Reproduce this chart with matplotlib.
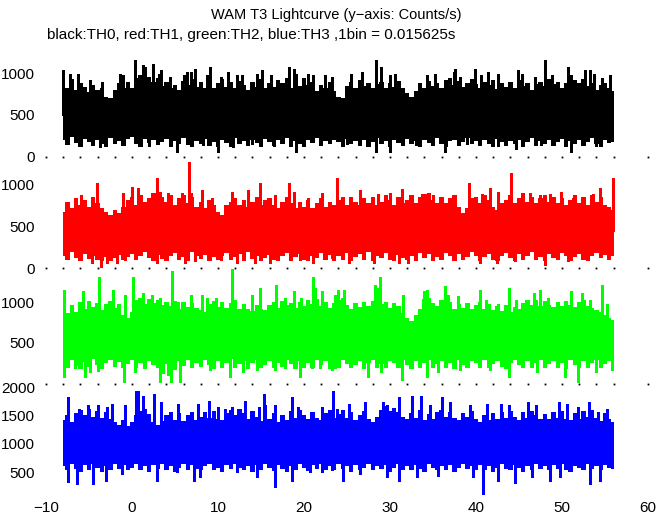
import numpy as np
import matplotlib
matplotlib.use('Agg')
import matplotlib.pyplot as plt

plt.rcParams['font.family'] = ['Liberation Sans', 'DejaVu Sans']

title = 'WAM T3 Lightcurve (y\u2212axis: Counts/s)'
subtitle = 'black:TH0, red:TH1, green:TH2, blue:TH3 ,1bin = 0.015625s'

# dense band of each lightcurve, read every 0.5 s from t=-8 s to t=56 s
t_start, t_step = -8.0, 0.5

black_top = [900, 820, 930, 800, 890, 840, 780, 860, 800, 830, 720, 700, 800, 880, 820, 900,
             830, 940, 980, 920, 960, 900, 940, 850, 900, 820, 860, 800, 910, 860, 930, 840,
             900, 830, 950, 820, 880, 930, 840, 900, 820, 910, 860, 800, 900, 840, 930, 820,
             890, 840, 920, 880, 950, 830, 900, 850, 940, 860, 900, 790, 860, 820, 900, 790,
             720, 700, 850, 900, 830, 920, 850, 890, 820, 870, 900, 830, 880, 840, 910, 820,
             760, 720, 790, 880, 830, 910, 850, 890, 830, 920, 950, 860, 910, 840, 880, 930,
             870, 820, 900, 860, 920, 810, 880, 840, 900, 830, 920, 850, 880, 800, 870, 900,
             850, 930, 870, 900, 820, 880, 840, 920, 880, 930, 850, 890, 800, 860, 880, 830,
             790]
black_bot = [200, 140, 230, 160, 120, 210, 170, 130, 200, 150, 110, 220, 150, 190, 130, 210,
             230, 150, 120, 210, 160, 200, 140, 170, 210, 110, 190, 150, 220, 140, 120, 190,
             150, 210, 130, 180, 110, 200, 160, 120, 220, 150, 190, 130, 200, 160, 120, 210,
             170, 130, 200, 150, 220, 120, 190, 150, 110, 200, 160, 220, 130, 190, 150, 200,
             170, 120, 210, 150, 190, 130, 200, 110, 170, 220, 150, 190, 120, 200, 160, 130,
             210, 150, 190, 120, 200, 160, 130, 220, 150, 110, 190, 200, 130, 170, 220, 150,
             190, 130, 200, 150, 120, 210, 170, 130, 190, 150, 200, 120, 170, 220, 130, 190,
             150, 200, 130, 170, 210, 120, 190, 150, 200, 130, 170, 220, 150, 120, 200, 160,
             180]
red_top = [680, 800, 720, 840, 760, 820, 740, 860, 780, 720, 680, 640, 700, 660, 740, 820,
           860, 760, 880, 800, 840, 900, 780, 860, 800, 880, 760, 840, 880, 780, 860, 740,
           800, 720, 820, 760, 680, 640, 760, 800, 840, 760, 820, 740, 800, 860, 760, 820,
           840, 760, 720, 800, 860, 780, 720, 800, 740, 820, 720, 780, 840, 740, 800, 760,
           820, 860, 760, 860, 800, 760, 840, 780, 860, 760, 800, 880, 820, 760, 860, 780,
           820, 880, 780, 860, 800, 900, 820, 780, 860, 780, 840, 880, 740, 660, 720, 840,
           860, 780, 880, 820, 740, 700, 780, 820, 880, 780, 840, 900, 800, 860, 780, 840,
           880, 800, 860, 780, 840, 760, 820, 880, 780, 860, 760, 880, 800, 860, 760, 740,
           700]
red_bot = [150, 100, 190, 120, 90, 170, 110, 140, 100, 80, 130, 90, 120, 160, 100, 130,
           170, 100, 140, 190, 120, 90, 160, 110, 90, 140, 180, 100, 130, 90, 190, 140,
           110, 160, 90, 130, 100, 150, 180, 100, 130, 170, 90, 190, 110, 150, 90, 120,
           160, 100, 90, 150, 180, 90, 130, 170, 100, 90, 150, 120, 180, 100, 160, 90,
           150, 100, 180, 90, 130, 170, 100, 190, 90, 150, 120, 180, 100, 80, 160, 120,
           100, 150, 90, 180, 120, 170, 80, 130, 100, 180, 150, 90, 170, 100, 130, 190,
           140, 90, 130, 170, 100, 80, 150, 180, 120, 90, 170, 100, 140, 190, 100, 130,
           90, 170, 120, 100, 180, 140, 90, 130, 170, 100, 80, 150, 180, 120, 160, 100,
           140]
green_top = [920, 860, 960, 880, 1000, 920, 1010, 940, 990, 900, 970, 1010, 930, 980, 840, 800,
             880, 1020, 1050, 980, 1040, 990, 1030, 960, 1000, 950, 1010, 920, 1000, 940, 990, 930,
             900, 880, 980, 1010, 940, 1000, 930, 990, 950, 910, 980, 920, 890, 960, 920, 900,
             960, 1000, 930, 1010, 960, 990, 930, 1000, 950, 1030, 970, 1040, 950, 1000, 930, 990,
             1030, 1050, 960, 920, 990, 940, 1000, 950, 1010, 940, 970, 1000, 930, 990, 950, 870,
             800, 770, 840, 920, 1040, 1050, 990, 950, 1030, 960, 1000, 920, 980, 930, 990, 910,
             960, 1000, 920, 980, 900, 950, 890, 960, 880, 940, 910, 990, 1020, 960, 1030, 950,
             1010, 960, 940, 1000, 950, 1010, 960, 940, 1000, 1020, 950, 930, 900, 880, 840, 810,
             780]
green_bot = [250, 200, 290, 220, 180, 270, 210, 300, 230, 180, 260, 290, 210, 270, 190, 240,
             290, 200, 260, 180, 280, 230, 190, 300, 250, 200, 170, 280, 220, 290, 190, 260,
             210, 290, 230, 180, 280, 200, 260, 300, 190, 240, 280, 180, 260, 290, 200, 230,
             280, 190, 260, 210, 290, 240, 180, 280, 200, 260, 190, 290, 230, 280, 180, 260,
             200, 290, 250, 190, 230, 280, 180, 260, 290, 200, 240, 190, 280, 260, 200, 290,
             230, 180, 280, 200, 260, 290, 190, 240, 280, 200, 260, 180, 290, 230, 190, 280,
             260, 200, 290, 190, 240, 280, 210, 180, 260, 290, 230, 190, 280, 200, 260, 290,
             190, 240, 280, 200, 260, 180, 290, 230, 200, 280, 190, 260, 290, 200, 240, 280,
             260]
blue_top = [1420, 1500, 1380, 1540, 1600, 1500, 1620, 1480, 1580, 1460, 1560, 1440, 1380, 1340, 1420, 1320,
            1380, 1500, 1580, 1620, 1520, 1380, 1340, 1400, 1500, 1560, 1420, 1540, 1400, 1500, 1560, 1420,
            1480, 1560, 1460, 1580, 1440, 1420, 1540, 1600, 1500, 1620, 1540, 1440, 1580, 1480, 1400, 1520,
            1440, 1540, 1380, 1500, 1420, 1580, 1460, 1600, 1500, 1440, 1560, 1460, 1420, 1540, 1600, 1460,
            1520, 1600, 1460, 1560, 1420, 1500, 1580, 1440, 1380, 1480, 1600, 1660, 1580, 1640, 1560, 1480,
            1440, 1540, 1460, 1600, 1420, 1520, 1440, 1560, 1600, 1480, 1560, 1460, 1420, 1540, 1480, 1580,
            1440, 1380, 1500, 1420, 1540, 1440, 1560, 1460, 1580, 1480, 1420, 1560, 1460, 1580, 1500, 1440,
            1520, 1440, 1560, 1460, 1580, 1440, 1420, 1540, 1440, 1580, 1480, 1600, 1460, 1400, 1540, 1440,
            1380]
blue_bot = [600, 530, 640, 560, 500, 620, 540, 650, 570, 510, 600, 540, 640, 560, 620, 530,
            580, 650, 540, 600, 510, 620, 560, 640, 530, 600, 500, 570, 650, 540, 620, 560,
            530, 600, 640, 540, 580, 510, 620, 560, 650, 570, 530, 600, 500, 620, 540, 640,
            570, 520, 620, 560, 500, 600, 540, 640, 570, 520, 620, 560, 650, 540, 600, 530,
            640, 560, 600, 510, 620, 540, 580, 650, 530, 600, 560, 620, 510, 580, 640, 540,
            600, 530, 620, 560, 500, 640, 580, 530, 600, 540, 620, 510, 580, 650, 560, 600,
            530, 620, 540, 600, 510, 580, 640, 560, 530, 620, 580, 500, 600, 540, 640, 560,
            600, 530, 620, 560, 650, 540, 510, 600, 580, 530, 640, 560, 600, 530, 620, 580,
            550]

# isolated spikes that stick out of the band (time s, counts/s)
black_up_t = [-8.0, -7.2, -6.3, -4.9, -3.5, -1.4, -1.0, 0.35, 1.3, 1.5, 2.4, 3.1, 3.4, 4.4, 6.0,
              6.4, 6.9, 7.3, 8.7, 9.1, 10.4, 11.2, 12.2, 12.8, 14.5, 15.1, 16.2, 18.2, 18.8, 19.1,
              20.5, 21.1, 22.4, 23.2, 25.5, 26.7, 28.4, 29.0, 30.0, 30.6, 34.3, 35.2, 37.4, 37.6,
              38.1, 39.9, 40.6, 41.4, 42.6, 44.9, 45.3, 46.9, 48.0, 48.8, 50.7, 51.1, 52.7, 53.3,
              53.7, 54.6, 55.6]
black_up_v = [1040, 1000, 1000, 920, 900, 1000, 980, 1160, 1100, 1080, 1120, 1000, 1040, 960, 980,
              1020, 1020, 1060, 980, 1080, 960, 1020, 980, 980, 1000, 1040, 980, 1080, 1060, 1000,
              1000, 980, 980, 960, 1000, 1020, 1160, 1080, 980, 1000, 980, 1000, 1020, 1060,
              960, 1060, 980, 1020, 1000, 1040, 1000, 960, 1160, 980, 1080, 980, 1040, 1040,
              1000, 940, 980]
black_dn_t = [-6.0, -3.7, -1.0, 2.0, 5.2, 8.3, 10.0, 11.8, 14.0, 16.5, 19.1, 22.0, 25.0, 28.4,
              30.0, 33.0, 36.4, 39.0, 42.6, 44.7, 47.5, 51.1, 54.0]
black_dn_v = [140, 110, 150, 130, 50, 140, 50, 120, 150, 130, 60, 140, 150, 50,
              50, 140, 50, 150, 130, 90, 140, 50, 130]

red_up_t = [-5.9, -4.1, -1.0, 0.0, 0.7, 2.9, 3.3, 4.2, 5.8, 6.6, 6.9, 8.1, 9.3, 11.6, 13.5,
            14.9, 16.6, 18.2, 18.8, 20.5, 22.1, 23.8, 26.5, 28.6, 30.0, 31.4, 33.7, 34.1, 35.0,
            37.4, 39.2, 40.7, 41.6, 42.6, 44.1, 46.3, 47.4, 48.6, 49.9, 51.3, 53.6, 54.4, 55.9]
red_up_v = [880, 1020, 900, 980, 960, 1090, 920, 900, 900, 1280, 900, 940, 840, 920, 940,
            1020, 880, 1020, 920, 840, 900, 1080, 940, 890, 900, 950, 890, 890, 880,
            860, 1020, 890, 960, 920, 1150, 900, 880, 890, 920, 840, 890, 960, 1090]
red_dn_t = [-4.7, -3.6, -2.9, -1.8, -0.8, 2.9, 6.2, 7.3, 10.4, 12.2, 14.3, 16.0, 19.5, 21.1,
            23.2, 25.2, 28.1, 31.0, 32.1, 40.5, 42.4, 44.5, 48.0, 50.7, 52.5, 55.4]
red_dn_v = [60, 10, 60, 60, 100, 60, 60, 80, 100, 60, 60, 60, 100, 60,
            120, 60, 60, 60, 60, 60, 60, 80, 40, 80, 120, 120]

green_up_t = [-7.9, -5.7, -3.8, -2.2, -0.8, 0.1, 1.3, 2.3, 3.3, 4.6, 5.4, 6.9, 8.1, 8.7, 9.8,
              11.6, 12.0, 13.9, 14.9, 16.8, 17.8, 18.8, 19.7, 21.1, 21.3, 22.1, 23.6, 24.0, 24.6,
              28.2, 28.6, 28.8, 31.5, 33.9, 34.3, 36.4, 36.8, 37.9, 40.5, 41.2, 42.6, 43.8, 44.7,
              46.7, 47.4, 48.4, 51.1, 52.3, 53.3, 54.6, 55.2]
green_up_v = [1150, 1130, 1300, 1150, 1090, 1300, 1110, 1090, 1050, 1380, 1000, 1090, 1090, 1050, 1050,
              1400, 1020, 1090, 1170, 1210, 1050, 1130, 1050, 1300, 1170, 1130, 1090, 1150, 1150,
              1210, 1170, 1300, 1090, 1130, 1150, 1190, 1090, 1070, 1150, 1020, 980, 1170, 1020,
              1110, 1150, 1050, 1130, 1110, 1020, 1210, 980]
green_dn_t = [-7.9, -6.6, -5.5, -4.9, -3.9, -0.9, 0.3, 3.2, 3.6, 4.2, 4.5, 5.6, 9.1, 11.4, 12.9,
              14.5, 16.6, 17.8, 19.5, 20.9, 21.9, 23.2, 23.6, 27.4, 29.0, 31.4, 34.3, 35.6, 38.1,
              41.6, 43.8, 47.1, 50.3, 51.9, 54.0, 55.8]
green_dn_v = [90, 200, 90, 150, 160, 20, 150, 20, 130, 110, 20, 20, 170, 90, 150,
              170, 170, 190, 90, 190, 200, 170, 200, 90, 150, 50, 90, 150, 170,
              170, 90, 150, 90, 20, 150, 170]

blue_up_t = [-7.5, -6.2, -5.1, -4.0, -2.9, -2.3, -0.8, 0.5, 0.7, 1.3, 2.6, 3.4, 5.4, 7.7, 8.9,
             10.0, 10.8, 11.6, 13.1, 14.8, 15.3, 15.5, 16.6, 18.6, 19.3, 22.1, 23.4, 23.8, 25.2,
             27.1, 29.2, 29.6, 31.0, 32.5, 33.6, 34.7, 36.0, 37.0, 39.3, 41.3, 42.9, 43.8, 46.1,
             47.0, 49.6, 50.6, 51.9, 53.1, 54.2, 55.2]
blue_up_v = [1820, 1620, 1680, 1680, 1650, 1710, 1680, 1940, 1940, 1850, 1880, 1740, 1710, 1710, 1760,
             1650, 1620, 1650, 1760, 1650, 1870, 1680, 1680, 1820, 1650, 1650, 1940, 1620, 1710,
             1740, 1740, 1680, 1820, 1850, 1850, 1680, 1820, 1740, 1680, 1710, 1710, 1680, 1740,
             1680, 1740, 1710, 1650, 1740, 1560, 1620]
blue_dn_t = [-7.4, -6.4, -4.5, -3.0, -1.2, 2.9, 5.2, 7.2, 7.9, 12.2, 14.5, 16.6, 18.6, 20.7, 22.1,
             23.2, 24.5, 26.5, 29.6, 31.0, 33.1, 35.6, 39.7, 40.8, 42.6, 44.5, 46.5, 48.6, 49.8,
             53.3, 54.4]
blue_dn_v = [320, 290, 290, 350, 470, 350, 500, 350, 410, 500, 410, 240, 350, 500, 500,
             530, 350, 470, 410, 350, 410, 440, 410, 120, 350, 300, 410, 350, 410,
             290, 350]

# mean level of each curve, used as the foot of the spikes
means = [500, 450, 600, 1050]

# zero-count bins every 2 s show up as dots on the zero line
zero_t = [-8, -6, -4, -2, 0, 2, 4, 6, 8, 10, 12, 14, 16, 18, 20, 22, 24, 26, 28, 30,
          32, 34, 36, 38, 40, 42, 44, 46, 48, 50, 52, 54, 56]

yticks = [[0, 500, 1000], [0, 500, 1000], [500, 1000], [500, 1000, 1500, 2000]]
xticks = [-10, 0, 10, 20, 30, 40, 50, 60]


W, H = 672, 515
x_left, x_right = 46, 648
# pixel row of zero counts, pixel row of panel top, pixels per 1000 counts
layout = [(156.5, 44.0, 83.0), (268.0, 156.5, 83.0),
          (384.0, 268.0, 82.0), (500.5, 384.0, 56.7)]
colors = ['#000000', '#ff0000', '#00ff00', '#0000ff']

series = [(black_top, black_bot, black_up_t, black_up_v, black_dn_t, black_dn_v),
          (red_top, red_bot, red_up_t, red_up_v, red_dn_t, red_dn_v),
          (green_top, green_bot, green_up_t, green_up_v, green_dn_t, green_dn_v),
          (blue_top, blue_bot, blue_up_t, blue_up_v, blue_dn_t, blue_dn_v)]

fig = plt.figure(figsize=(W / 100, H / 100), dpi=100)

for k, (y0, ytop, scale) in enumerate(layout):
    ax = fig.add_axes([x_left / W, (H - y0) / H, (x_right - x_left) / W, (y0 - ytop) / H])
    ax.patch.set_visible(False)
    for sp in ax.spines.values():
        sp.set_visible(False)
    ax.set_xlim(-10, 60)
    ax.set_ylim(0, (y0 - ytop) / scale * 1000)

    top, bot, up_t, up_v, dn_t, dn_v = series[k]
    c = colors[k]
    t = t_start + t_step * np.arange(len(top))
    ax.fill_between(t, bot, top, step='mid', color=c, lw=0, antialiased=False)
    ax.vlines(up_t, means[k], up_v, colors=c, lw=0.75, antialiased=False)
    ax.vlines(dn_t, dn_v, means[k], colors=c, lw=0.75, antialiased=False)

    if k < 3:
        ax.plot(zero_t, np.zeros(len(zero_t)), ls='none', marker='s', ms=1.3,
                mew=0, color='k', clip_on=False)
        ax.plot([-10, 60], [0, 0], ls='none', marker='s', ms=1.3, mew=0,
                color='k', clip_on=False)

    ax.set_yticks(yticks[k])
    ax.set_yticklabels([str(v) for v in yticks[k]])
    if k == 3:
        ax.set_xticks(xticks)
        ax.set_xticklabels([str(v).replace('-', '\u2212') for v in xticks])
    else:
        ax.set_xticks([])
    ax.tick_params(length=0, labelsize=11, pad=8)
    ax.tick_params(axis='x', pad=0)

fig.text(0.5, 1 - 15 / H, title, ha='center', va='center', fontsize=10.5)
fig.text(47 / W, 1 - 35 / H, subtitle, ha='left', va='center', fontsize=11)

fig.savefig('out.png', dpi=100)
